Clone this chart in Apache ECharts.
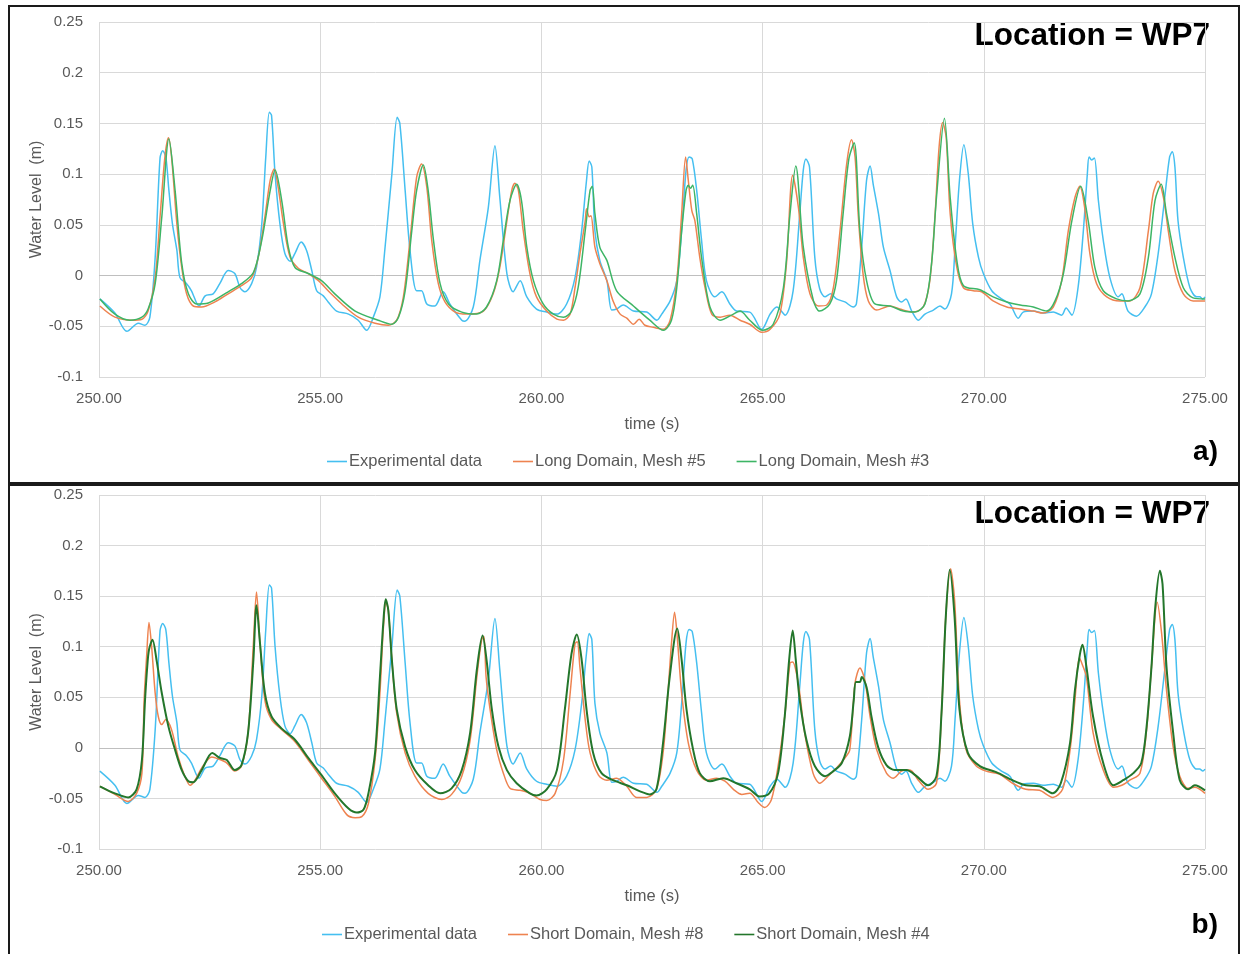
<!DOCTYPE html>
<html>
<head>
<meta charset="utf-8">
<script src="https://cdn.jsdelivr.net/npm/echarts@6/dist/echarts.min.js"></script>
<style>
html,body{margin:0;padding:0;background:#fff;}
#chart{width:1244px;height:954px;}
</style>
</head>
<body>
<div id="chart"></div>
<script>
// ---- data: [time (s), water level (m)] ----
const experimental = [[250.02,-0.023],[250.36,-0.037],[250.63,-0.055],[250.89,-0.047],[251.04,-0.049],[251.15,-0.041],[251.27,0.018],[251.38,0.116],[251.44,0.123],[251.51,0.117],[251.58,0.084],[251.66,0.051],[251.76,0.025],[251.83,-0.002],[251.98,-0.008],[252.09,-0.015],[252.26,-0.030],[252.40,-0.020],[252.58,-0.018],[252.73,-0.008],[252.92,0.005],[253.07,0.002],[253.19,-0.012],[253.30,-0.016],[253.45,-0.008],[253.56,0.008],[253.68,0.051],[253.77,0.117],[253.85,0.161],[253.90,0.158],[253.98,0.100],[254.09,0.051],[254.20,0.022],[254.32,0.014],[254.43,0.022],[254.57,0.033],[254.69,0.025],[254.81,0.005],[254.92,-0.015],[255.07,-0.020],[255.18,-0.026],[255.37,-0.035],[255.64,-0.038],[255.86,-0.044],[256.05,-0.054],[256.20,-0.041],[256.35,-0.021],[256.46,0.025],[256.62,0.100],[256.74,0.156],[256.80,0.150],[256.92,0.084],[257.03,0.025],[257.18,-0.015],[257.29,-0.015],[257.41,-0.028],[257.59,-0.030],[257.78,-0.016],[257.93,-0.028],[258.20,-0.044],[258.27,-0.045],[258.46,-0.031],[258.61,0.015],[258.80,0.067],[258.95,0.128],[259.06,0.077],[259.22,0.002],[259.36,-0.016],[259.52,-0.005],[259.67,-0.021],[259.89,-0.033],[260.12,-0.036],[260.35,-0.038],[260.57,-0.028],[260.76,-0.002],[260.91,0.044],[261.02,0.094],[261.08,0.113],[261.14,0.107],[261.21,0.044],[261.32,0.015],[261.48,-0.005],[261.59,-0.034],[261.70,-0.033],[261.85,-0.029],[262.08,-0.035],[262.38,-0.036],[262.61,-0.044],[262.72,-0.038],[262.91,-0.025],[263.06,-0.005],[263.17,0.044],[263.27,0.104],[263.34,0.117],[263.41,0.115],[263.51,0.084],[263.62,0.035],[263.73,-0.005],[263.92,-0.021],[264.08,-0.016],[264.26,-0.028],[264.41,-0.035],[264.71,-0.036],[264.98,-0.053],[265.17,-0.038],[265.32,-0.031],[265.51,-0.039],[265.69,-0.015],[265.84,0.061],[265.92,0.104],[265.98,0.115],[266.06,0.107],[266.18,0.018],[266.29,-0.013],[266.41,-0.021],[266.54,-0.018],[266.67,-0.023],[266.86,-0.026],[267.05,-0.031],[267.12,-0.028],[267.24,0.028],[267.35,0.094],[267.43,0.108],[267.50,0.090],[267.62,0.061],[267.73,0.028],[267.88,0.005],[268.03,-0.021],[268.14,-0.026],[268.24,-0.023],[268.37,-0.035],[268.52,-0.044],[268.67,-0.038],[268.86,-0.034],[269.01,-0.030],[269.12,-0.033],[269.27,-0.018],[269.35,0.028],[269.45,0.094],[269.55,0.129],[269.65,0.100],[269.75,0.051],[269.88,0.018],[269.99,0.002],[270.18,-0.015],[270.40,-0.023],[270.59,-0.028],[270.78,-0.042],[270.89,-0.036],[271.12,-0.035],[271.34,-0.037],[271.57,-0.036],[271.76,-0.039],[271.86,-0.032],[271.99,-0.039],[272.13,-0.012],[272.25,0.044],[272.34,0.100],[272.38,0.117],[272.44,0.114],[272.50,0.116],[272.59,0.074],[272.70,0.035],[272.85,-0.002],[273.04,-0.021],[273.12,-0.018],[273.26,-0.035],[273.45,-0.040],[273.64,-0.031],[273.79,-0.018],[273.94,0.021],[274.09,0.077],[274.20,0.117],[274.26,0.122],[274.32,0.107],[274.39,0.054],[274.51,0.018],[274.66,-0.012],[274.81,-0.021],[274.88,-0.021],[274.95,-0.023],[275.00,-0.021]];

const longMesh5 = [[250.02,-0.030],[250.36,-0.041],[250.74,-0.044],[250.97,-0.043],[251.11,-0.035],[251.27,-0.002],[251.38,0.058],[251.49,0.117],[251.57,0.136],[251.64,0.117],[251.76,0.051],[251.87,0.008],[251.98,-0.018],[252.13,-0.030],[252.32,-0.031],[252.62,-0.026],[252.92,-0.018],[253.22,-0.010],[253.45,-0.002],[253.60,0.018],[253.75,0.058],[253.87,0.094],[253.96,0.105],[254.05,0.087],[254.17,0.051],[254.32,0.018],[254.51,0.007],[254.73,0.002],[254.96,-0.005],[255.18,-0.015],[255.49,-0.028],[255.86,-0.041],[256.24,-0.047],[256.54,-0.049],[256.73,-0.044],[256.88,-0.021],[257.03,0.035],[257.18,0.097],[257.29,0.110],[257.41,0.087],[257.52,0.035],[257.67,-0.008],[257.82,-0.026],[258.05,-0.036],[258.31,-0.038],[258.69,-0.035],[258.91,-0.018],[259.06,0.008],[259.22,0.054],[259.33,0.084],[259.40,0.091],[259.48,0.084],[259.59,0.044],[259.74,0.002],[259.89,-0.021],[260.12,-0.035],[260.35,-0.043],[260.50,-0.044],[260.65,-0.038],[260.76,-0.012],[260.87,0.021],[260.99,0.054],[261.02,0.066],[261.08,0.058],[261.12,0.059],[261.21,0.028],[261.32,0.012],[261.48,-0.005],[261.62,-0.025],[261.78,-0.038],[261.93,-0.042],[262.08,-0.048],[262.21,-0.043],[262.34,-0.049],[262.53,-0.051],[262.76,-0.053],[262.91,-0.044],[263.06,-0.005],[263.17,0.061],[263.26,0.117],[263.32,0.094],[263.40,0.064],[263.47,0.054],[263.58,0.018],[263.70,-0.012],[263.85,-0.038],[264.04,-0.041],[264.26,-0.039],[264.49,-0.044],[264.71,-0.048],[264.98,-0.056],[265.17,-0.053],[265.39,-0.038],[265.54,0.012],[265.68,0.099],[265.81,0.067],[265.92,0.018],[266.07,-0.018],[266.26,-0.030],[266.45,-0.029],[266.60,-0.012],[266.75,0.044],[266.90,0.110],[267.01,0.134],[267.09,0.117],[267.16,0.061],[267.27,0.002],[267.39,-0.025],[267.58,-0.034],[267.88,-0.030],[268.10,-0.033],[268.40,-0.036],[268.63,-0.031],[268.78,-0.005],[268.90,0.061],[268.99,0.127],[269.07,0.151],[269.15,0.136],[269.24,0.061],[269.39,0.008],[269.54,-0.012],[269.76,-0.015],[269.95,-0.016],[270.21,-0.025],[270.52,-0.031],[270.82,-0.033],[271.12,-0.035],[271.34,-0.037],[271.57,-0.031],[271.76,-0.005],[271.91,0.044],[272.06,0.077],[272.17,0.088],[272.28,0.067],[272.40,0.021],[272.55,-0.008],[272.78,-0.021],[273.08,-0.025],[273.30,-0.025],[273.53,-0.012],[273.72,0.044],[273.83,0.081],[273.94,0.093],[274.06,0.077],[274.17,0.044],[274.32,0.005],[274.51,-0.018],[274.73,-0.025],[275.00,-0.025]];

const longMesh3 = [[250.02,-0.023],[250.36,-0.038],[250.70,-0.044],[250.97,-0.041],[251.11,-0.033],[251.27,-0.008],[251.42,0.058],[251.58,0.135],[251.72,0.084],[251.87,0.012],[252.02,-0.018],[252.21,-0.028],[252.47,-0.027],[252.92,-0.016],[253.22,-0.008],[253.49,0.003],[253.68,0.035],[253.87,0.084],[253.98,0.104],[254.13,0.074],[254.28,0.028],[254.43,0.008],[254.73,0.002],[255.03,-0.005],[255.33,-0.018],[255.79,-0.035],[256.31,-0.044],[256.62,-0.048],[256.77,-0.041],[256.92,-0.015],[257.07,0.044],[257.18,0.084],[257.33,0.109],[257.44,0.084],[257.56,0.035],[257.71,-0.008],[257.90,-0.028],[258.20,-0.036],[258.53,-0.038],[258.76,-0.031],[258.99,-0.005],[259.14,0.035],[259.29,0.074],[259.44,0.090],[259.55,0.074],[259.67,0.028],[259.82,-0.005],[260.04,-0.028],[260.27,-0.038],[260.50,-0.041],[260.68,-0.035],[260.83,-0.012],[260.99,0.044],[261.10,0.084],[261.15,0.088],[261.21,0.061],[261.32,0.028],[261.48,0.015],[261.70,-0.015],[262.08,-0.030],[262.45,-0.044],[262.76,-0.054],[262.94,-0.044],[263.06,-0.012],[263.17,0.044],[263.27,0.084],[263.32,0.089],[263.37,0.086],[263.42,0.089],[263.51,0.061],[263.62,0.018],[263.81,-0.031],[264.04,-0.044],[264.34,-0.038],[264.49,-0.035],[264.71,-0.044],[265.00,-0.054],[265.24,-0.048],[265.47,-0.012],[265.62,0.061],[265.75,0.108],[265.92,0.028],[266.15,-0.025],[266.29,-0.035],[266.52,-0.028],[266.67,-0.005],[266.82,0.061],[266.95,0.115],[267.07,0.131],[267.20,0.044],[267.35,-0.005],[267.54,-0.028],[267.88,-0.030],[268.18,-0.035],[268.44,-0.036],[268.67,-0.028],[268.82,0.012],[268.93,0.077],[269.11,0.155],[269.24,0.077],[269.39,0.015],[269.54,-0.010],[269.91,-0.014],[270.21,-0.021],[270.52,-0.026],[270.82,-0.029],[271.12,-0.031],[271.42,-0.035],[271.61,-0.025],[271.80,0.002],[271.99,0.054],[272.19,0.088],[272.36,0.054],[272.51,0.008],[272.70,-0.015],[273.00,-0.023],[273.26,-0.025],[273.53,-0.018],[273.72,0.018],[273.87,0.074],[274.01,0.090],[274.13,0.061],[274.32,0.018],[274.51,-0.012],[274.73,-0.022],[275.00,-0.023]];

const shortMesh8 = [[250.02,-0.038],[250.36,-0.046],[250.66,-0.053],[250.85,-0.045],[250.97,-0.025],[251.02,0.047],[251.08,0.093],[251.13,0.124],[251.19,0.100],[251.27,0.054],[251.34,0.031],[251.42,0.023],[251.51,0.028],[251.64,0.018],[251.79,-0.009],[251.94,-0.028],[252.06,-0.037],[252.17,-0.032],[252.32,-0.020],[252.55,-0.009],[252.70,-0.011],[252.89,-0.015],[253.07,-0.023],[253.22,-0.018],[253.37,0.015],[253.49,0.103],[253.56,0.154],[253.64,0.103],[253.75,0.047],[253.90,0.028],[254.13,0.018],[254.43,0.006],[254.73,-0.012],[255.03,-0.030],[255.33,-0.048],[255.60,-0.066],[255.79,-0.069],[255.94,-0.068],[256.09,-0.055],[256.24,-0.012],[256.35,0.054],[256.43,0.120],[256.49,0.144],[256.54,0.136],[256.62,0.087],[256.73,0.034],[256.92,-0.005],[257.14,-0.028],[257.44,-0.045],[257.75,-0.051],[257.97,-0.046],[258.20,-0.028],[258.39,0.008],[258.54,0.070],[258.65,0.107],[258.70,0.110],[258.75,0.070],[258.84,0.038],[258.99,-0.002],[259.14,-0.025],[259.29,-0.040],[259.52,-0.042],[259.74,-0.045],[259.97,-0.051],[260.12,-0.052],[260.31,-0.045],[260.50,-0.012],[260.65,0.054],[260.76,0.103],[260.81,0.105],[260.87,0.080],[260.99,0.028],[261.10,-0.005],[261.29,-0.027],[261.48,-0.032],[261.70,-0.030],[261.93,-0.038],[262.15,-0.049],[262.38,-0.049],[262.60,-0.041],[262.75,-0.005],[262.86,0.054],[262.94,0.103],[263.01,0.134],[263.07,0.110],[263.17,0.054],[263.32,0.005],[263.51,-0.022],[263.73,-0.032],[263.96,-0.030],[264.15,-0.033],[264.34,-0.041],[264.53,-0.046],[264.71,-0.045],[264.90,-0.054],[265.05,-0.059],[265.20,-0.051],[265.35,-0.018],[265.50,0.031],[265.62,0.084],[265.68,0.085],[265.75,0.077],[265.84,0.054],[265.95,0.015],[266.14,-0.025],[266.29,-0.035],[266.48,-0.028],[266.67,-0.020],[266.86,-0.010],[266.97,-0.002],[267.09,0.064],[267.20,0.079],[267.31,0.067],[267.43,0.031],[267.58,-0.002],[267.80,-0.025],[267.95,-0.030],[268.14,-0.023],[268.33,-0.022],[268.52,-0.032],[268.74,-0.041],[268.93,-0.035],[269.04,0.031],[269.14,0.129],[269.25,0.177],[269.34,0.146],[269.45,0.047],[269.60,-0.002],[269.83,-0.018],[270.05,-0.023],[270.35,-0.026],[270.65,-0.035],[270.95,-0.041],[271.26,-0.042],[271.56,-0.049],[271.78,-0.041],[271.95,-0.002],[272.06,0.047],[272.16,0.089],[272.23,0.082],[272.32,0.070],[272.47,0.015],[272.70,-0.022],[272.93,-0.039],[273.12,-0.037],[273.30,-0.032],[273.53,-0.025],[273.68,0.018],[273.79,0.080],[273.92,0.144],[274.02,0.113],[274.13,0.057],[274.28,0.001],[274.43,-0.028],[274.62,-0.040],[274.77,-0.039],[275.00,-0.045]];

const shortMesh4 = [[250.02,-0.038],[250.36,-0.045],[250.66,-0.049],[250.85,-0.041],[250.97,-0.012],[251.04,0.047],[251.09,0.080],[251.13,0.097],[251.21,0.107],[251.30,0.087],[251.42,0.054],[251.57,0.021],[251.72,-0.002],[251.87,-0.022],[252.02,-0.033],[252.13,-0.034],[252.32,-0.022],[252.56,-0.005],[252.73,-0.010],[252.89,-0.012],[253.07,-0.022],[253.22,-0.017],[253.37,0.015],[253.49,0.087],[253.56,0.141],[253.64,0.103],[253.75,0.054],[253.90,0.031],[254.13,0.019],[254.43,0.008],[254.73,-0.010],[255.03,-0.027],[255.33,-0.045],[255.64,-0.060],[255.83,-0.064],[255.98,-0.061],[256.09,-0.045],[256.24,-0.005],[256.35,0.070],[256.43,0.126],[256.48,0.147],[256.54,0.136],[256.62,0.087],[256.73,0.038],[256.92,0.001],[257.14,-0.022],[257.44,-0.037],[257.71,-0.045],[257.97,-0.040],[258.20,-0.022],[258.39,0.015],[258.54,0.077],[258.67,0.111],[258.76,0.087],[258.88,0.038],[259.03,0.001],[259.22,-0.022],[259.44,-0.035],[259.74,-0.045],[259.89,-0.047],[260.12,-0.041],[260.35,-0.022],[260.53,0.038],[260.68,0.093],[260.80,0.112],[260.91,0.087],[261.02,0.038],[261.17,-0.005],[261.36,-0.025],[261.62,-0.032],[261.93,-0.037],[262.23,-0.043],[262.45,-0.046],[262.60,-0.041],[262.75,0.005],[262.90,0.070],[263.07,0.118],[263.17,0.087],[263.28,0.038],[263.43,-0.002],[263.58,-0.025],[263.81,-0.033],[264.11,-0.030],[264.41,-0.035],[264.71,-0.041],[264.93,-0.048],[265.15,-0.045],[265.35,-0.025],[265.50,0.031],[265.60,0.087],[265.68,0.116],[265.75,0.087],[265.84,0.047],[265.99,0.008],[266.18,-0.018],[266.41,-0.028],[266.60,-0.023],[266.79,-0.015],[266.97,0.011],[267.06,0.047],[267.11,0.065],[267.20,0.065],[267.24,0.070],[267.35,0.060],[267.46,0.031],[267.61,0.001],[267.80,-0.017],[267.99,-0.022],[268.25,-0.022],[268.48,-0.028],[268.74,-0.037],[268.93,-0.028],[269.04,0.031],[269.14,0.129],[269.23,0.176],[269.34,0.129],[269.45,0.038],[269.64,-0.005],[269.91,-0.018],[270.28,-0.024],[270.65,-0.032],[270.95,-0.037],[271.26,-0.038],[271.56,-0.045],[271.74,-0.035],[271.95,0.005],[272.06,0.057],[272.17,0.092],[272.23,0.102],[272.32,0.080],[272.47,0.031],[272.70,-0.015],[272.93,-0.037],[273.15,-0.032],[273.38,-0.025],[273.56,-0.015],[273.68,0.021],[273.79,0.080],[273.87,0.136],[273.98,0.175],[274.04,0.162],[274.13,0.080],[274.28,0.015],[274.43,-0.032],[274.62,-0.041],[274.77,-0.037],[275.00,-0.042]];

const seriesNamesTop = ['Experimental data', 'Long Domain, Mesh #5', 'Long Domain, Mesh #3'];
const seriesNamesBottom = ['Experimental data', 'Short Domain, Mesh #8', 'Short Domain, Mesh #4'];
const panelTitle = 'Location = WP7';
const panelTags = ['a)', 'b)'];
const xAxisTitle = 'time (s)';
const yAxisTitle = 'Water Level  (m)';

// ---- styling ----
const C_EXP = '#45BFF0', C_OR = '#EE8350', C_GR = '#3DB565', C_DG = '#23762B';
const LABEL = '#595959', GRID = '#D9D9D9';
const FONT = '"Liberation Sans", Arial, sans-serif';

function xAx(gi) {
  return {
    type: 'value', gridIndex: gi, min: 250, max: 275, interval: 5,
    axisLine: {show: false}, axisTick: {show: false},
    axisLabel: {color: LABEL, fontSize: 15, fontFamily: FONT, margin: 14,
      formatter: v => v.toFixed(2)},
    splitLine: {show: true, lineStyle: {color: GRID, width: 1}},
    name: xAxisTitle, nameLocation: 'middle', nameGap: 39,
    nameTextStyle: {color: LABEL, fontSize: 16.5, fontFamily: FONT}
  };
}
function yAx(gi) {
  return {
    type: 'value', gridIndex: gi, min: -0.1, max: 0.25, interval: 0.05,
    axisLine: {show: false}, axisTick: {show: false},
    axisLabel: {color: LABEL, fontSize: 15, fontFamily: FONT, margin: 16,
      formatter: v => String(+v.toFixed(2))},
    splitLine: {show: true, lineStyle: {color: GRID, width: 1}},
    name: yAxisTitle, nameLocation: 'middle', nameGap: 54, nameMoveOverlap: false,
    nameTextStyle: {color: LABEL, fontSize: 16, fontFamily: FONT}
  };
}
function line(name, data, color, width, gi, withZero) {
  const s = {
    name, type: 'line', data, xAxisIndex: gi, yAxisIndex: gi,
    symbol: 'none', smooth: 0.3, lineStyle: {color, width}, itemStyle: {color},
    animation: false
  };
  if (withZero) {
    s.markLine = {silent: true, symbol: ['none', 'none'], label: {show: false},
      lineStyle: {color: '#BFBFBF', width: 1, type: 'solid'}, data: [{yAxis: 0}], z: 1};
  }
  return s;
}
function legend(names, left, top) {
  return {data: names, left, top, padding: 0, icon: 'rect', itemWidth: 20, itemHeight: 1.6, itemGap: 31,
    textStyle: {color: LABEL, fontSize: 16.5, fontFamily: FONT, padding: [0, 0, 0, -3]}};
}

const chart = echarts.init(document.getElementById('chart'), null, {renderer: 'canvas'});
chart.setOption({
  backgroundColor: '#fff',
  animation: false,
  grid: [
    {left: 99, width: 1106, top: 22, height: 355},
    {left: 99, width: 1106, top: 495, height: 354}
  ],
  xAxis: [xAx(0), xAx(1)],
  yAxis: [yAx(0), yAx(1)],
  legend: [legend(seriesNamesTop, 327, 453), legend(seriesNamesBottom, 322, 926)],
  series: [
    line(seriesNamesTop[0], experimental, C_EXP, 1.5, 0, true),
    line(seriesNamesTop[1], longMesh5, C_OR, 1.5, 0),
    line(seriesNamesTop[2], longMesh3, C_GR, 1.5, 0),
    line(seriesNamesBottom[0], experimental, C_EXP, 1.5, 1, true),
    line(seriesNamesBottom[1], shortMesh8, C_OR, 1.5, 1),
    line(seriesNamesBottom[2], shortMesh4, C_DG, 2, 1)
  ],
  graphic: [
    {type: 'rect', shape: {x: 9, y: 6, width: 1230, height: 477}, style: {fill: 'none', stroke: '#1a1a1a', lineWidth: 2}, silent: true},
    {type: 'rect', shape: {x: 9, y: 485, width: 1230, height: 475}, style: {fill: 'none', stroke: '#1a1a1a', lineWidth: 2}, silent: true},
    {type: 'text', right: 1244 - 1210, top: 20, style: {text: panelTitle, fill: '#000', font: 'bold 31.5px ' + FONT}},
    {type: 'text', right: 1244 - 1210, top: 498, style: {text: panelTitle, fill: '#000', font: 'bold 31.5px ' + FONT}},
    {type: 'text', right: 1244 - 1218, top: 438, style: {text: panelTags[0], fill: '#000', font: 'bold 28px ' + FONT}},
    {type: 'text', right: 1244 - 1218, top: 911, style: {text: panelTags[1], fill: '#000', font: 'bold 28px ' + FONT}}
  ]
});
</script>
</body>
</html>
